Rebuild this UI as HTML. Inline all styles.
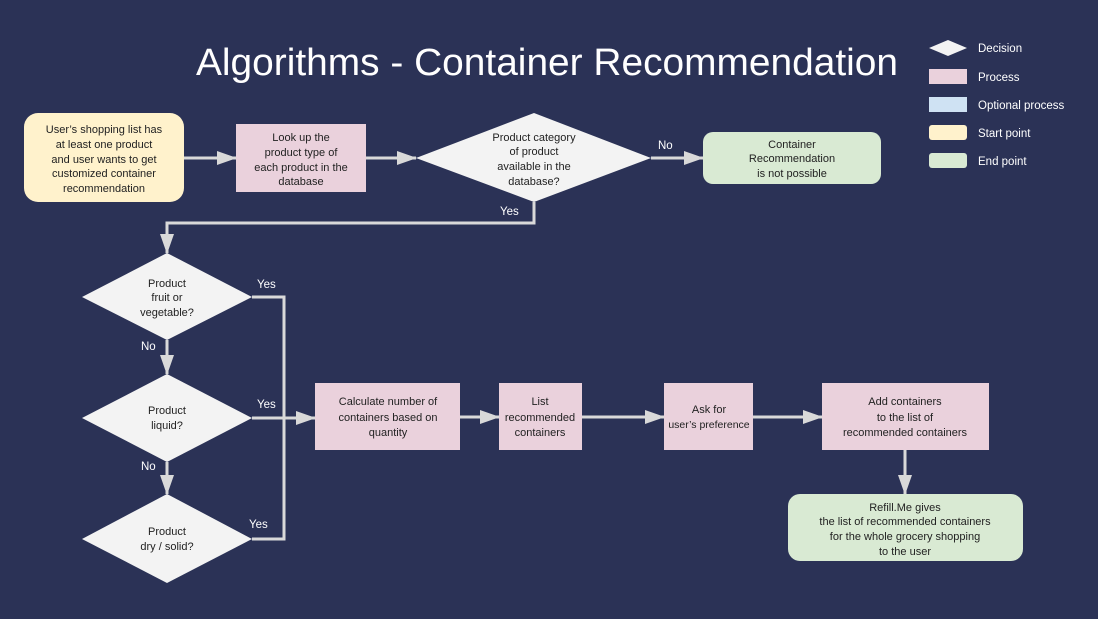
<!DOCTYPE html>
<html><head><meta charset="utf-8"><style>
html,body{margin:0;padding:0;background:#2b3256;}
svg{display:block;}
text{font-family:"Liberation Sans",sans-serif;}
</style></head><body>
<svg width="1098" height="619" viewBox="0 0 1098 619" xmlns="http://www.w3.org/2000/svg">
<defs>
<marker id="b" viewBox="0 0 20 14" markerWidth="20" markerHeight="14" refX="19" refY="7" orient="auto" markerUnits="userSpaceOnUse">
<path d="M0,0 L20,7 L0,14 Z" fill="#d9d9d9"/>
</marker>
</defs>
<rect width="1098" height="619" fill="#2b3256"/>
<text x="547" y="75" text-anchor="middle" font-size="38" fill="#ffffff" textLength="702" lengthAdjust="spacingAndGlyphs">Algorithms - Container Recommendation</text>

<!-- legend -->
<polygon points="929,48 948,40 967,48 948,56" fill="#f3f3f3"/>
<rect x="929" y="69" width="38" height="15" fill="#ead1dc"/>
<rect x="929" y="97" width="38" height="15" fill="#cfe2f3"/>
<rect x="929" y="125" width="38" height="15" rx="3" fill="#fff2cc"/>
<rect x="929" y="153" width="38" height="15" rx="3" fill="#d9ead3"/>
<g font-size="11.5" fill="#ffffff">
<text x="978" y="52">Decision</text>
<text x="978" y="81">Process</text>
<text x="978" y="109">Optional process</text>
<text x="978" y="137">Start point</text>
<text x="978" y="165">End point</text>
</g>

<!-- connectors -->
<g stroke="#d9d9d9" stroke-width="3" fill="none">
<line x1="184" y1="158" x2="236" y2="158" marker-end="url(#b)"/>
<line x1="366" y1="158" x2="416" y2="158" marker-end="url(#b)"/>
<line x1="651" y1="158" x2="703" y2="158" marker-end="url(#b)"/>
<polyline points="534,202 534,223 167,223 167,253" marker-end="url(#b)"/>
<line x1="167" y1="340" x2="167" y2="374" marker-end="url(#b)"/>
<line x1="167" y1="462" x2="167" y2="494" marker-end="url(#b)"/>
<polyline points="252,297 284,297 284,539 252,539"/>
<line x1="252" y1="418" x2="315" y2="418" marker-end="url(#b)"/>
<line x1="460" y1="417" x2="499" y2="417" marker-end="url(#b)"/>
<line x1="582" y1="417" x2="664" y2="417" marker-end="url(#b)"/>
<line x1="753" y1="417" x2="822" y2="417" marker-end="url(#b)"/>
<line x1="905" y1="450" x2="905" y2="494" marker-end="url(#b)"/>
</g>

<!-- shapes -->
<rect x="24" y="113" width="160" height="89" rx="14" fill="#fff2cc"/>
<rect x="236" y="124" width="130" height="68" fill="#ead1dc"/>
<polygon points="416,158 534,113 651,158 534,202" fill="#f3f3f3"/>
<rect x="703" y="132" width="178" height="52" rx="10" fill="#d9ead3"/>
<polygon points="82,297 167,253 252,297 167,340" fill="#f3f3f3"/>
<polygon points="82,418 167,374 252,418 167,462" fill="#f3f3f3"/>
<polygon points="82,539 167,494 252,539 167,583" fill="#f3f3f3"/>
<rect x="315" y="383" width="145" height="67" fill="#ead1dc"/>
<rect x="499" y="383" width="83" height="67" fill="#ead1dc"/>
<rect x="664" y="383" width="89" height="67" fill="#ead1dc"/>
<rect x="822" y="383" width="167" height="67" fill="#ead1dc"/>
<rect x="788" y="494" width="235" height="67" rx="12" fill="#d9ead3"/>

<!-- labels -->
<g font-size="11" fill="#222" text-anchor="middle">
<text x="104" y="133">User’s shopping list has</text>
<text x="104" y="148">at least one product</text>
<text x="104" y="163">and user wants to get</text>
<text x="104" y="177">customized container</text>
<text x="104" y="192">recommendation</text>
<text x="301" y="141">Look up the</text>
<text x="301" y="156">product type of</text>
<text x="301" y="171">each product in the</text>
<text x="301" y="185">database</text>
<text x="534" y="141">Product category</text>
<text x="534" y="155">of product</text>
<text x="534" y="170">available in the</text>
<text x="534" y="185">database?</text>
<text x="792" y="148">Container</text>
<text x="792" y="162">Recommendation</text>
<text x="792" y="177">is not possible</text>
<text x="167" y="287">Product</text>
<text x="167" y="301">fruit or</text>
<text x="167" y="316">vegetable?</text>
<text x="167" y="414">Product</text>
<text x="167" y="429">liquid?</text>
<text x="167" y="535">Product</text>
<text x="167" y="550">dry / solid?</text>
<text x="388" y="405">Calculate number of</text>
<text x="388" y="421">containers based on</text>
<text x="388" y="436">quantity</text>
<text x="540" y="405">List</text>
<text x="540" y="421">recommended</text>
<text x="540" y="436">containers</text>
<text x="709" y="413">Ask for</text>
<text x="709" y="428" font-size="10.5">user’s preference</text>
<text x="905" y="405">Add containers</text>
<text x="905" y="421">to the list of</text>
<text x="905" y="436">recommended containers</text>
<text x="905" y="511">Refill.Me gives</text>
<text x="905" y="525">the list of recommended containers</text>
<text x="905" y="540">for the whole grocery shopping</text>
<text x="905" y="555">to the user</text>
</g>
<g font-size="11.5" fill="#ffffff">
<text x="658" y="149">No</text>
<text x="500" y="215">Yes</text>
<text x="257" y="288">Yes</text>
<text x="141" y="350">No</text>
<text x="257" y="408">Yes</text>
<text x="141" y="470">No</text>
<text x="249" y="528">Yes</text>
</g>
</svg>
</body></html>
